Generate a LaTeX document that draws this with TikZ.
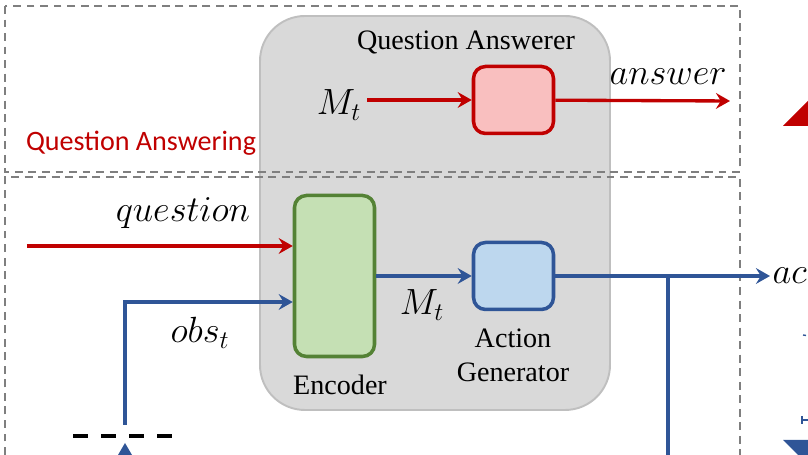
\documentclass[tikz,border=0pt]{standalone}
\usepackage{fontspec}
\setmainfont{Liberation Serif}
\newfontfamily\calfont{Carlito}
\usetikzlibrary{arrows.meta}
\definecolor{qared}{HTML}{C00000}
\definecolor{qapink}{HTML}{F9BFBF}
\definecolor{qagreen}{HTML}{548235}
\definecolor{qalgreen}{HTML}{C5E0B4}
\definecolor{qablue}{HTML}{2F5597}
\definecolor{qalblue}{HTML}{BDD7EE}
\definecolor{qagray}{HTML}{D9D9D9}
\definecolor{qadgray}{HTML}{BFBFBF}
\definecolor{qadash}{HTML}{7F7F7F}

\begin{document}
\begin{tikzpicture}[
  panel/.style={draw=qadgray,fill=qagray,line width=1.1pt,rounded corners=0.9cm},
  frame/.style={qadash,line width=1.3pt,dash pattern=on 4.5pt off 3.2pt},
  box/.style={draw,rounded corners=0.24cm,line width=2pt,minimum width=1.6cm,minimum height=1.34cm},
  redline/.style={qared,line width=1.9pt},
  blueline/.style={qablue,line width=1.9pt},
  arr/.style={-{Stealth[length=8pt,width=9pt,inset=2.8pt]}},
  lbl/.style={font=\fontsize{16}{19.4}\selectfont},
  var/.style={font=\fontsize{20}{22}\selectfont}]
\useasboundingbox (0,0) rectangle (16.16,9.1);
% agent panel and the two dashed regions
\node[panel,minimum width=7cm,minimum height=7.88cm] (agent) at (8.7,4.84) {};
\draw[frame] (0.1,8.98) rectangle (14.8,5.66);
\draw[frame] (0.1,0) |- (14.8,5.56) -- (14.8,0);
% modules
\node[box,draw=qared,fill=qapink] (ans) at (10.27,7.1) {};
\node[box,draw=qagreen,fill=qalgreen,minimum height=3.22cm] (enc) at (6.69,3.58) {};
\node[box,draw=qablue,fill=qalblue] (act) at (10.27,3.58) {};
% texts
\node[lbl] (qatitle) at (9.32,8.26) {Question Answerer};
\node[lbl,font=\calfont\fontsize{16}{19.4}\selectfont,text=qared] (qalabel) at (2.82,6.24) {Question Answering};
\node[lbl] (enclabel) at (6.8,1.4) {Encoder};
\node[lbl,align=center] (actlabel) at (10.26,2.0) {Action\\Generator};
\node[var] (mtop) at (6.78,7.0) {$M_t$};
\node[var] (answer) at (13.36,7.56) {$answer$};
\node[var] (question) at (3.66,4.84) {$question$};
\node[var] (obs) at (4.0,2.44) {$obs_t$};
\node[var] (mbot) at (8.44,3.0) {$M_t$};
\node[var,anchor=east,inner sep=0pt] (action) at (16.14,3.58) {$ac$};
% connectors
\coordinate (qin) at (0.54,4.18);
\coordinate (aout) at (14.6,7.08);
\coordinate (oin) at (2.5,0.6);
\coordinate (split) at (13.36,3.58);
\draw[redline,arr] (mtop.east |- ans) -- (ans);
\draw[redline,arr] (ans) -- (aout);
\draw[redline,arr] (qin) -- (qin -| enc.west);
\draw[blueline,arr] (oin) |- (enc.west |- 0,3.06);
\draw[blueline,arr] (enc.east |- act) -- (act);
\draw[blueline,arr] (act) -- (action.west -| 15.4,0);
\draw[blueline] (split) -- (13.36,0);
% pieces cut by the border
\draw[line width=1.8pt,dash pattern=on 0.3cm off 0.26cm] (1.46,0.38) -- (3.46,0.38);
\fill[qablue] (2.5,0.24) -- (2.36,0) -- (2.64,0) -- cycle;
\fill[qared] (15.66,6.58) -- (16.16,6.58) -- (16.16,7.08) -- cycle;
\fill[qablue] (15.66,0.3) -- (16.16,0.3) -- (16.16,0) -- (15.96,0) -- cycle;
\draw[qablue,line width=0.8pt] (16.06,2.4) -- (16.12,2.39);
\draw[qablue,line width=1pt] (16.04,0.78) -- (16.04,0.62) (16.04,0.7) -- (16.16,0.7);
\end{tikzpicture}
\end{document}
